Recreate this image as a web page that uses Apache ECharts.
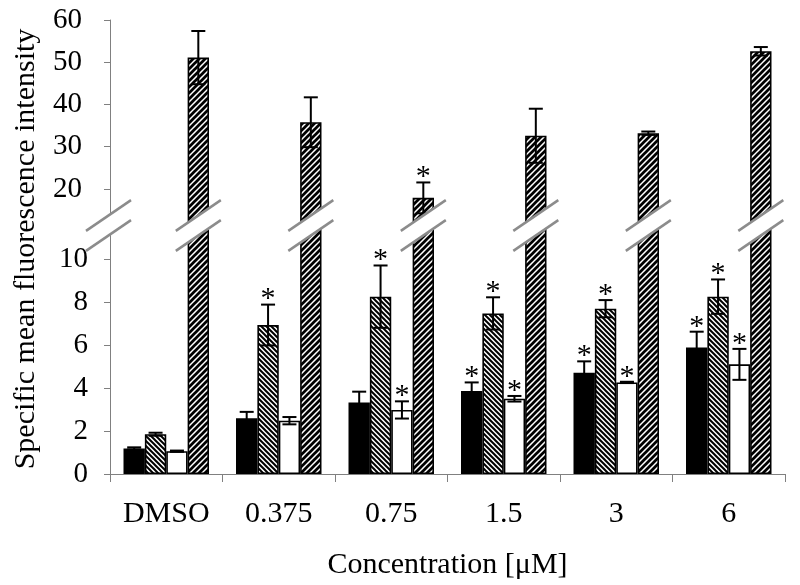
<!DOCTYPE html>
<html><head><meta charset="utf-8">
<script src="https://cdn.jsdelivr.net/npm/echarts@6/dist/echarts.min.js"></script>
<style>html,body{margin:0;padding:0;background:#fff}#c{width:800px;height:585px}</style>
</head><body><div id="c"></div>
<script>
const categories = ['DMSO', '0.375', '0.75', '1.5', '3', '6'];
const blackValues = [1.19, 2.59, 3.33, 3.86, 4.71, 5.89];
const blackErrors = [0.05, 0.30, 0.50, 0.40, 0.53, 0.73];
const blackStars  = [0, 0, 0, 1, 1, 1];
const denseValues = [1.85, 6.93, 8.25, 7.47, 7.69, 8.25];
const denseErrors = [0.07, 0.95, 1.45, 0.75, 0.40, 0.80];
const denseStars  = [0, 1, 1, 1, 1, 1];
const whiteValues = [1.06, 2.48, 2.98, 3.50, 4.26, 5.10];
const whiteErrors = [0.03, 0.17, 0.40, 0.13, 0.03, 0.72];
const whiteStars  = [0, 0, 1, 1, 1, 1];
const boldValues  = [51.1, 35.8, 17.9, 32.6, 33.2, 52.6];
const boldErrors  = [6.3, 5.9, 3.65, 6.4, 0.4, 1.0];
const boldStars   = [0, 0, 1, 0, 0, 0];
const lowerTicks = [0, 2, 4, 6, 8, 10];
const upperTicks = [20, 30, 40, 50, 60];
const yTitle = 'Specific mean fluorescence intensity';
const xTitle = 'Concentration [μM]';

// axis break extents
const lowerMax = 11.56;
const upperMin = 11.36;
const upperMax = 60;

const FONT = '"Liberation Serif", "Times New Roman", serif';

function hatch(size, width, dir) {
  const c = document.createElement('canvas');
  c.width = size; c.height = size;
  const g = c.getContext('2d');
  g.fillStyle = '#fff'; g.fillRect(0, 0, size, size);
  g.strokeStyle = '#000'; g.lineWidth = width; g.lineCap = 'square';
  for (let k = -1; k <= 1; k++) {
    const x0 = k * size;
    g.beginPath();
    if (dir === 'back') { g.moveTo(x0, 0); g.lineTo(x0 + size, size); }
    else { g.moveTo(x0, size); g.lineTo(x0 + size, 0); }
    g.stroke();
  }
  return c;
}
const densePattern = { image: hatch(5, 2.0, 'back'), repeat: 'repeat' };
const boldPattern = { image: hatch(6, 2.7, 'fwd'), repeat: 'repeat' };

const groups = [
  { values: blackValues, errors: blackErrors, stars: blackStars, color: '#000' },
  { values: denseValues, errors: denseErrors, stars: denseStars, color: densePattern },
  { values: whiteValues, errors: whiteErrors, stars: whiteStars, color: '#fff' },
  { values: boldValues, errors: boldErrors, stars: boldStars, color: boldPattern }
];

const BAR_FRAC = 0.19;
const series = [];
[0, 1].forEach(gi => {
  groups.forEach((g, s) => {
    series.push({
      type: 'bar', xAxisIndex: gi, yAxisIndex: gi,
      data: g.values.map(v => gi === 1 && v <= upperMin ? '-' : v),
      barWidth: (BAR_FRAC * 100) + '%', barGap: '0%',
      clip: true, silent: true,
      itemStyle: { color: g.color, borderColor: '#000', borderWidth: 1.6 },
      z: 2
    });
  });
});

function errData(upper) {
  const out = [];
  groups.forEach((g, s) => g.values.forEach((v, i) => {
    if ((v > lowerMax) === upper) out.push([i, s, v, g.errors[i], g.stars[i]]);
  }));
  return out;
}
function renderErr(params, api) {
  const i = api.value(0), s = api.value(1), v = api.value(2), e = api.value(3), st = api.value(4);
  const band = api.size([1, 0])[0];
  const bw = band * BAR_FRAC;
  const cx = api.coord([i, v])[0] + (s - 1.5) * bw;
  const yT = api.coord([i, v + e])[1];
  const yB = api.coord([i, v - e])[1];
  const cap = 7;
  const st1 = { stroke: '#000', lineWidth: 2 };
  const ch = [
    { type: 'line', shape: { x1: cx, y1: yT, x2: cx, y2: yB }, style: st1 },
    { type: 'line', shape: { x1: cx - cap, y1: yT, x2: cx + cap, y2: yT }, style: st1 },
    { type: 'line', shape: { x1: cx - cap, y1: yB, x2: cx + cap, y2: yB }, style: st1 }
  ];
  if (st) ch.push({ type: 'text', style: { text: '*', x: cx, y: yT + 10, align: 'center', verticalAlign: 'bottom', font: '30px ' + FONT, fill: '#000' } });
  return { type: 'group', children: ch };
}
series.push({ type: 'custom', xAxisIndex: 0, yAxisIndex: 0, data: errData(false), renderItem: renderErr, z: 5, silent: true });
series.push({ type: 'custom', xAxisIndex: 1, yAxisIndex: 1, data: errData(true), renderItem: renderErr, z: 5, silent: true });

const axisGray = '#808080';
const option = {
  animation: false,
  backgroundColor: '#fff',
  grid: [
    { left: 110, right: 15, top: 225.5, bottom: 111, containLabel: false, outerBoundsMode: 'none' },
    { left: 110, right: 15, top: 20, bottom: 359.5, containLabel: false, outerBoundsMode: 'none' }
  ],
  xAxis: [
    { gridIndex: 0, type: 'category', data: categories,
      axisLine: { lineStyle: { color: axisGray, width: 1 } },
      axisTick: { show: true, interval: 0, length: 8, lineStyle: { color: axisGray } },
      axisLabel: { interval: 0, fontFamily: FONT, fontSize: 30, color: '#000', margin: 25 },
      name: xTitle, nameLocation: 'middle', nameGap: 76,
      nameTextStyle: { fontFamily: FONT, fontSize: 30, color: '#000' } },
    { gridIndex: 1, type: 'category', data: categories, show: false }
  ],
  yAxis: [
    { gridIndex: 0, type: 'value', min: 0, max: lowerMax,
      axisLine: { show: true, lineStyle: { color: axisGray } },
      axisTick: { show: true, length: 6, customValues: lowerTicks, lineStyle: { color: axisGray } },
      axisLabel: { customValues: lowerTicks, fontFamily: FONT, fontSize: 29, color: '#000', margin: 22 },
      splitLine: { show: false } },
    { gridIndex: 1, type: 'value', min: upperMin, max: upperMax,
      axisLine: { show: true, lineStyle: { color: axisGray } },
      axisTick: { show: true, length: 6, customValues: upperTicks, lineStyle: { color: axisGray } },
      axisLabel: { customValues: upperTicks, fontFamily: FONT, fontSize: 29, color: '#000', margin: 28 },
      splitLine: { show: false } }
  ],
  series: series
};

const chart = echarts.init(document.getElementById('c'), null, { renderer: 'canvas' });
chart.setOption(option);

// axis-break marks
const yc = chart.convertToPixel({ yAxisIndex: 0 }, lowerMax);
const x0 = chart.convertToPixel({ xAxisIndex: 0 }, categories[0]);
const x1 = chart.convertToPixel({ xAxisIndex: 0 }, categories[1]);
const band = x1 - x0;
const axisX = x0 - band / 2;
function breakMark(cx) {
  const hw = 22.5, dy = 15.4, g = 10;
  const ls = { stroke: '#8c8c8c', lineWidth: 2.5 };
  return [
    { type: 'polygon', z: 100, shape: { points: [[cx - hw, yc - g + dy], [cx + hw, yc - g - dy], [cx + hw, yc + g - dy], [cx - hw, yc + g + dy]] }, style: { fill: '#fff' } },
    { type: 'line', z: 101, shape: { x1: cx - hw, y1: yc - g + dy, x2: cx + hw, y2: yc - g - dy }, style: ls },
    { type: 'line', z: 101, shape: { x1: cx - hw, y1: yc + g + dy, x2: cx + hw, y2: yc + g - dy }, style: ls }
  ];
}
let elements = breakMark(axisX - 1.5);
categories.forEach(c => {
  const cx = chart.convertToPixel({ xAxisIndex: 0 }, c) + 1.5 * band * BAR_FRAC;
  elements = elements.concat(breakMark(cx));
});
elements.push({ type: 'text', z: 100, x: 26, y: 249, rotation: Math.PI / 2,
  style: { text: yTitle, font: '30px ' + FONT, fill: '#000', align: 'center', verticalAlign: 'middle' } });
chart.setOption({ graphic: { elements: elements } });
</script></body></html>
